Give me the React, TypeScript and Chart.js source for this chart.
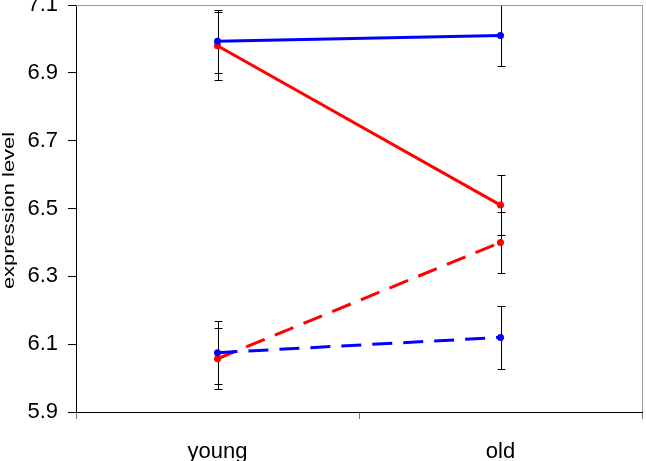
import React, { useEffect, useRef } from "react";
import { Chart, registerables } from "chart.js";

Chart.register(...registerables);

const categories = ["young", "old"];
const yTicks = [5.9, 6.1, 6.3, 6.5, 6.7, 6.9, 7.1];

const blueSolid = [6.993, 7.01];
const blueSolidErr = [0.093, 0.09];
const redSolid = [6.98, 6.51];
const redSolidErr = [0.1, 0.088];
const blueDashed = [6.075, 6.12];
const blueDashedErr = [0.092, 0.093];
const redDashed = [6.057, 6.4];
const redDashedErr = [0.09, 0.09];

const BLUE = "#0000FF";
const RED = "#FF0000";
const FONT = '"Liberation Sans", Arial, Helvetica, sans-serif';

const errorBarPlugin = {
  id: "errorBars",
  beforeDatasetsDraw(chart: any) {
    const ctx = chart.ctx;
    const x = chart.scales.x;
    const y = chart.scales.y;
    ctx.save();
    ctx.strokeStyle = "#000";
    ctx.lineWidth = 1;
    chart.data.datasets.forEach((ds: any) => {
      const errs: number[] = ds.errors || [];
      ds.data.forEach((v: number, i: number) => {
        const e = errs[i];
        if (e == null) return;
        const px = Math.round(x.getPixelForValue(i)) + 0.5;
        const top = Math.round(y.getPixelForValue(Math.min(v + e, y.max))) + 0.5;
        const bot = Math.round(y.getPixelForValue(v - e)) + 0.5;
        ctx.beginPath();
        ctx.moveTo(px, top);
        ctx.lineTo(px, bot);
        ctx.moveTo(px - 4, top);
        ctx.lineTo(px + 4, top);
        ctx.moveTo(px - 4, bot);
        ctx.lineTo(px + 4, bot);
        ctx.stroke();
      });
    });
    ctx.restore();
  },
};

const framePlugin = {
  id: "frame",
  afterDraw(chart: any) {
    const { ctx, chartArea } = chart;
    ctx.save();
    ctx.strokeStyle = "#9a9a9a";
    ctx.lineWidth = 1;
    ctx.beginPath();
    ctx.moveTo(chartArea.left, chartArea.top + 0.5);
    ctx.lineTo(chartArea.right + 0.5, chartArea.top + 0.5);
    ctx.lineTo(chartArea.right + 0.5, chartArea.bottom);
    ctx.stroke();
    // y-axis title, drawn as real text slightly stretched along its length
    ctx.fillStyle = "#000";
    ctx.font = `16px ${FONT}`;
    ctx.textAlign = "center";
    ctx.textBaseline = "alphabetic";
    ctx.translate(14, (chartArea.top + chartArea.bottom) / 2 + 2);
    ctx.rotate(-Math.PI / 2);
    ctx.scale(1.37, 1);
    ctx.fillText("expression level", 0, 0);
    ctx.restore();
  },
};

export default function App() {
  const canvasRef = useRef<HTMLCanvasElement | null>(null);

  useEffect(() => {
    if (!canvasRef.current) return;
    const chart = new Chart(canvasRef.current, {
      type: "line",
      data: {
        labels: categories,
        datasets: [
          {
            label: "blue solid",
            data: blueSolid,
            errors: blueSolidErr,
            borderColor: BLUE,
            backgroundColor: BLUE,
            borderWidth: 3,
            pointRadius: 3.5,
            pointBorderWidth: 0,
            pointBackgroundColor: BLUE,
          } as any,
          {
            label: "red solid",
            data: redSolid,
            errors: redSolidErr,
            borderColor: RED,
            backgroundColor: RED,
            borderWidth: 3,
            pointRadius: 3.5,
            pointBorderWidth: 0,
            pointBackgroundColor: RED,
          } as any,
          {
            label: "blue dashed",
            data: blueDashed,
            errors: blueDashedErr,
            borderColor: BLUE,
            backgroundColor: BLUE,
            borderWidth: 3,
            borderDash: [20, 11],
            pointRadius: 3.5,
            pointBorderWidth: 0,
            pointBackgroundColor: BLUE,
          } as any,
          {
            label: "red dashed",
            data: redDashed,
            errors: redDashedErr,
            borderColor: RED,
            backgroundColor: RED,
            borderWidth: 3,
            borderDash: [20, 11],
            pointRadius: 3.5,
            pointBorderWidth: 0,
            pointBackgroundColor: RED,
          } as any,
        ],
      },
      options: {
        animation: false,
        responsive: false,
        maintainAspectRatio: false,
        layout: { padding: { top: 5, right: 4, left: 0, bottom: 0 } },
        plugins: {
          legend: { display: false },
          tooltip: { enabled: false },
        },
        scales: {
          x: {
            type: "category",
            offset: true,
            grid: {
              offset: true,
              drawOnChartArea: false,
              drawTicks: true,
              tickLength: 7,
              color: "#777",
            },
            border: { display: true, color: "#000", width: 1 },
            ticks: {
              color: "#000",
              font: { size: 22, family: FONT },
              padding: 20,
              maxRotation: 0,
            },
            afterFit(scale: any) {
              scale.height = 49;
              scale.paddingLeft = 0;
              scale.paddingRight = 0;
            },
          },
          y: {
            type: "linear",
            min: 5.9,
            max: 7.1,
            grid: {
              drawOnChartArea: false,
              drawTicks: true,
              tickLength: 8,
              color: "#000",
            },
            border: { display: true, color: "#000", width: 1 },
            ticks: {
              color: "#000",
              font: { size: 22, family: FONT },
              padding: 10,
              callback: (v: any) => Number(v).toFixed(1),
            },
            afterBuildTicks(scale: any) {
              scale.ticks = yTicks.map((v) => ({ value: v }));
            },
            afterFit(scale: any) {
              scale.width = 76;
              scale.paddingTop = 0;
              scale.paddingBottom = 0;
            },
          },
        },
      },
      plugins: [errorBarPlugin, framePlugin],
    });
    return () => chart.destroy();
  }, []);

  return (
    <div style={{ position: "fixed", left: 0, top: 0, width: 646, height: 461, background: "#fff" }}>
      <canvas ref={canvasRef} width={646} height={461} style={{ display: "block" }} />
    </div>
  );
}
